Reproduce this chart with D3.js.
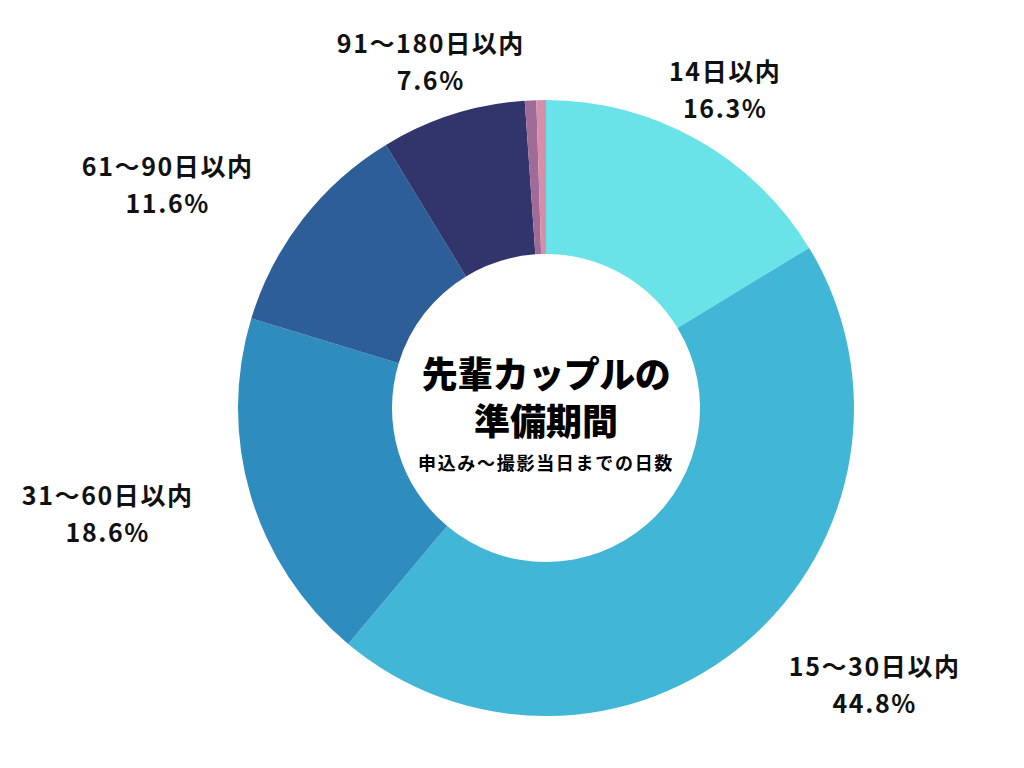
<!DOCTYPE html>
<html><head><meta charset="utf-8">
<script src="https://cdn.jsdelivr.net/npm/d3@7"></script>
<style>body{margin:0;background:#fff}svg{display:block}</style>
</head><body>
<svg id="c" width="1024" height="768"></svg>
<script>
const categories = ["14日以内","15〜30日以内","31〜60日以内","61〜90日以内","91〜180日以内","その他A","その他B"];
const values = [16.3, 44.8, 18.6, 11.6, 7.6, 0.6, 0.5];
const showLabel = [true, true, true, true, true, false, false];
const colors = ["#6AE3E8","#42B6D6","#2E8CBE","#2E5E98","#31356B","#A06B97","#D68FAA"];
const titleLines = ["先輩カップルの","準備期間"];
const subtitle = "申込み〜撮影当日までの日数";

const svg = d3.select("#c");
const cx = 546, cy = 408, R = 308, r = 154;
const g = svg.append("g").attr("transform", `translate(${cx},${cy})`);
const data = categories.map((c,i)=>({c, v: values[i], i}));
const pie = d3.pie().value(d=>d.v).sort(null);
const arc = d3.arc().innerRadius(r).outerRadius(R);
const arcs = pie(data);
g.selectAll("path").data(arcs).join("path")
  .attr("d", arc).attr("fill", d=>colors[d.data.i]);

// labels
const labelR = 380;
const nudges = [[-7,13],[81,-11],[-74,-2],[-78,10],[0,16]];
const fontFam = "'Noto Sans CJK JP','Noto Sans',sans-serif";
arcs.forEach((a,k)=>{
  if(!showLabel[a.data.i]) return;
  const m = (a.startAngle + a.endAngle)/2;
  const n = nudges[a.data.i];
  const x = Math.sin(m)*labelR + n[0];
  const y = -Math.cos(m)*labelR + n[1];
  const t = g.append("text").attr("text-anchor","middle")
    .attr("font-family", fontFam).attr("font-size", 25).attr("font-weight", 700)
    .attr("fill","#111").style("letter-spacing","1.6px");
  t.append("tspan").attr("x", x).attr("y", y - 18).attr("dy","0.35em").text(a.data.c);
  t.append("tspan").attr("x", x).attr("y", y + 19).attr("dy","0.35em").text(d3.format(".1f")(a.data.v) + "%");
});

// center text
const ct = g.append("g").attr("font-family", fontFam).attr("text-anchor","middle").attr("fill","#000");
ct.append("text").attr("x",0).attr("y",-33).attr("dy","0.35em")
  .attr("font-size",36).attr("font-weight",900).style("letter-spacing","-0.5px").text(titleLines[0]);
ct.append("text").attr("x",0).attr("y",14).attr("dy","0.35em")
  .attr("font-size",36).attr("font-weight",900).text(titleLines[1]);
ct.append("text").attr("x",0).attr("y",56).attr("dy","0.35em")
  .attr("font-size",18).attr("font-weight",700).style("letter-spacing","1.7px").text(subtitle);
</script>
</body></html>
